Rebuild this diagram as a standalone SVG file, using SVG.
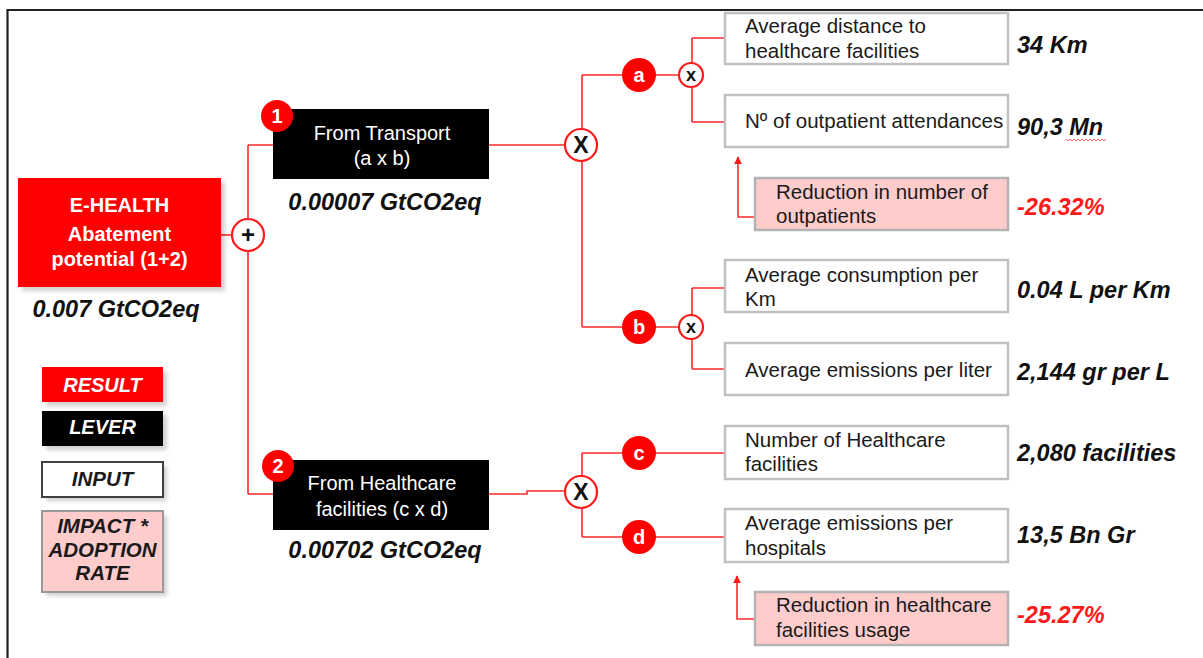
<svg xmlns="http://www.w3.org/2000/svg" width="1203" height="658" viewBox="0 0 1203 658">
<defs>
<style>
.t{font-family:"Liberation Sans",Arial,sans-serif;}
.lbl{font-family:"Liberation Sans",Arial,sans-serif;font-size:20.5px;fill:#1a1a1a;}
.wh{font-family:"Liberation Sans",Arial,sans-serif;font-size:20px;fill:#ffffff;}
.val{font-family:"Liberation Sans",Arial,sans-serif;font-size:23.5px;font-weight:bold;font-style:italic;fill:#111;}
.red{fill:#ff1a1a;}
.inbox{fill:#ffffff;stroke:#c0c0c0;stroke-width:2.5;}
.pink{fill:#ffcccc;stroke:#b3b3b3;stroke-width:2.5;}
.conn{fill:none;stroke:#ff2a2a;stroke-width:1.6;}
.op{fill:#ffffff;stroke:#ff1a1a;stroke-width:2.2;}
.dot{fill:#ff0000;}
.shadow{fill:#000;opacity:0.18;filter:url(#blur);}
</style>
<filter id="blur" x="-20%" y="-20%" width="140%" height="140%"><feGaussianBlur stdDeviation="2"/></filter>
<marker id="arr" viewBox="0 0 10 10" refX="9" refY="5" markerWidth="8" markerHeight="8" orient="auto-start-reverse" markerUnits="userSpaceOnUse"><path d="M0,0 L10,5 L0,10 z" fill="#ff1a1a"/></marker>
</defs>
<rect width="1203" height="658" fill="#ffffff"/>
<path d="M7.5 658 V10 H1203" fill="none" stroke="#222" stroke-width="2.2"/>

<g id="connectors">
<path class="conn" d="M221 235 H248"/>
<path class="conn" d="M248 145 V494 M248 145 H273 M248 494 H273"/>
<path class="conn" d="M489 145 H582"/>
<path class="conn" d="M582 75 V327 M582 75 H692 M582 327 H692"/>
<path class="conn" d="M692 38 V122 M692 38 H725 M692 122 H725"/>
<path class="conn" d="M692 288 V369 M692 288 H725 M692 369 H725"/>
<path class="conn" d="M489 494 H527 V491 H582"/>
<path class="conn" d="M582 453 V537 M582 453 H725 M582 537 H725"/>
<path class="conn" d="M756 217 H738 V157" marker-end="url(#arr)"/>
<path class="conn" d="M756 619 H737 V576" marker-end="url(#arr)"/>
</g>

<g id="ehealth">
<rect class="shadow" x="22" y="182" width="203" height="109"/>
<rect x="18" y="178" width="203" height="109" fill="#ff0000"/>
<text class="wh" x="119.5" y="212" text-anchor="middle" font-weight="bold" font-size="20">E-HEALTH</text>
<text class="wh" x="119.5" y="241" text-anchor="middle" font-weight="bold" font-size="20">Abatement</text>
<text class="wh" x="119.5" y="266" text-anchor="middle" font-weight="bold" font-size="20">potential (1+2)</text>
<text class="val" x="116" y="317" text-anchor="middle">0.007 GtCO2eq</text>
</g>

<g id="plus">
<circle class="op" cx="248" cy="235" r="16"/>
<text class="t" x="248" y="243" text-anchor="middle" font-size="24" font-weight="bold" fill="#111">+</text>
</g>

<g id="transport">
<rect x="273" y="109" width="216" height="70" fill="#000"/>
<text class="wh" x="382" y="140" text-anchor="middle">From Transport</text>
<text class="wh" x="382" y="165" text-anchor="middle">(a x b)</text>
<circle class="dot" cx="277" cy="116" r="16"/>
<text class="wh" x="277" y="123" text-anchor="middle" font-weight="bold" font-size="19">1</text>
<text class="val" x="385" y="210" text-anchor="middle">0.00007 GtCO2eq</text>
</g>

<g id="healthcare">
<rect x="273" y="460" width="216" height="70" fill="#000"/>
<text class="wh" x="382" y="490" text-anchor="middle">From Healthcare</text>
<text class="wh" x="382" y="516" text-anchor="middle">facilities (c x d)</text>
<circle class="dot" cx="278" cy="466" r="16"/>
<text class="wh" x="278" y="473" text-anchor="middle" font-weight="bold" font-size="19">2</text>
<text class="val" x="385" y="558" text-anchor="middle">0.00702 GtCO2eq</text>
</g>

<g id="mult1">
<circle class="op" cx="581" cy="145" r="16"/>
<text class="t" x="581" y="153" text-anchor="middle" font-size="23" font-weight="bold" fill="#111">X</text>
</g>
<g id="mult2">
<circle class="op" cx="581" cy="492" r="16"/>
<text class="t" x="581" y="500" text-anchor="middle" font-size="23" font-weight="bold" fill="#111">X</text>
</g>

<g id="badge-a">
<circle class="dot" cx="639" cy="75" r="17"/>
<text class="wh" x="639" y="82" text-anchor="middle" font-weight="bold" font-size="20">a</text>
</g>
<g id="badge-b">
<circle class="dot" cx="639" cy="327" r="17"/>
<text class="wh" x="639" y="334" text-anchor="middle" font-weight="bold" font-size="20">b</text>
</g>
<g id="badge-c">
<circle class="dot" cx="639" cy="453" r="17"/>
<text class="wh" x="639" y="460" text-anchor="middle" font-weight="bold" font-size="20">c</text>
</g>
<g id="badge-d">
<circle class="dot" cx="639" cy="537" r="17"/>
<text class="wh" x="639" y="544" text-anchor="middle" font-weight="bold" font-size="20">d</text>
</g>

<g id="xa">
<circle class="op" cx="691" cy="75" r="12"/>
<text class="t" x="691" y="81" text-anchor="middle" font-size="18" font-weight="bold" fill="#111">x</text>
</g>
<g id="xb">
<circle class="op" cx="691" cy="327" r="12"/>
<text class="t" x="691" y="333" text-anchor="middle" font-size="18" font-weight="bold" fill="#111">x</text>
</g>

<g id="in-distance">
<rect class="inbox" x="725" y="13" width="283" height="51"/>
<text class="lbl" x="745" y="33">Average distance to</text>
<text class="lbl" x="745" y="58">healthcare facilities</text>
<text class="val" x="1017" y="53">34 Km</text>
</g>
<g id="in-outpatient">
<rect class="inbox" x="725" y="95" width="283" height="52"/>
<text class="lbl" x="745" y="128">Nº of outpatient attendances</text>
<text class="val" x="1017" y="135">90,3 Mn</text>
<path d="M1066 139 l2 2 l2 -2 l2 2 l2 -2 l2 2 l2 -2 l2 2 l2 -2 l2 2 l2 -2 l2 2 l2 -2 l2 2 l2 -2 l2 2 l2 -2 l2 2 l2 -2 l2 2 l2 -2" fill="none" stroke="#ff3333" stroke-width="0.8"/>
</g>
<g id="imp-outpatients">
<rect class="pink" x="755" y="178" width="253" height="52"/>
<text class="lbl" x="776" y="199">Reduction in number of</text>
<text class="lbl" x="776" y="223">outpatients</text>
<text class="val red" x="1017" y="215">-26.32%</text>
</g>
<g id="in-consumption">
<rect class="inbox" x="725" y="260" width="283" height="52"/>
<text class="lbl" x="745" y="282">Average consumption per</text>
<text class="lbl" x="745" y="306">Km</text>
<text class="val" x="1017" y="298">0.04 L per Km</text>
</g>
<g id="in-emissions-liter">
<rect class="inbox" x="725" y="343" width="283" height="52"/>
<text class="lbl" x="745" y="377">Average emissions per liter</text>
<text class="val" x="1017" y="380">2,144 gr per L</text>
</g>
<g id="in-facilities">
<rect class="inbox" x="725" y="426" width="283" height="53"/>
<text class="lbl" x="745" y="447">Number of Healthcare</text>
<text class="lbl" x="745" y="471">facilities</text>
<text class="val" x="1017" y="461">2,080 facilities</text>
</g>
<g id="in-emissions-hospital">
<rect class="inbox" x="725" y="509" width="283" height="53"/>
<text class="lbl" x="745" y="530">Average emissions per</text>
<text class="lbl" x="745" y="555">hospitals</text>
<text class="val" x="1017" y="543">13,5 Bn Gr</text>
</g>
<g id="imp-facilities">
<rect class="pink" x="755" y="592" width="253" height="53"/>
<text class="lbl" x="776" y="612">Reduction in healthcare</text>
<text class="lbl" x="776" y="637">facilities usage</text>
<text class="val red" x="1017" y="623">-25.27%</text>
</g>

<g id="legend">
<rect class="shadow" x="46" y="371" width="121" height="35"/>
<rect x="42" y="367" width="121" height="35" fill="#ff0000"/>
<text class="wh" x="102.5" y="392" text-anchor="middle" font-weight="bold" font-style="italic">RESULT</text>
<rect class="shadow" x="46" y="415" width="121" height="35"/>
<rect x="42" y="411" width="121" height="35" fill="#000"/>
<text class="wh" x="102.5" y="434" text-anchor="middle" font-weight="bold" font-style="italic">LEVER</text>
<rect class="shadow" x="46" y="466" width="121" height="35"/>
<rect x="42" y="462" width="121" height="35" fill="#fff" stroke="#404040" stroke-width="2"/>
<text class="lbl" x="102.5" y="486" text-anchor="middle" font-weight="bold" font-style="italic">INPUT</text>
<rect class="shadow" x="46" y="515" width="121" height="81"/>
<rect x="42" y="511" width="121" height="81" fill="#ffcccc" stroke="#999" stroke-width="2"/>
<text class="lbl" x="102.5" y="533" text-anchor="middle" font-weight="bold" font-style="italic">IMPACT *</text>
<text class="lbl" x="102.5" y="557" text-anchor="middle" font-weight="bold" font-style="italic">ADOPTION</text>
<text class="lbl" x="102.5" y="580" text-anchor="middle" font-weight="bold" font-style="italic">RATE</text>
</g>
</svg>
